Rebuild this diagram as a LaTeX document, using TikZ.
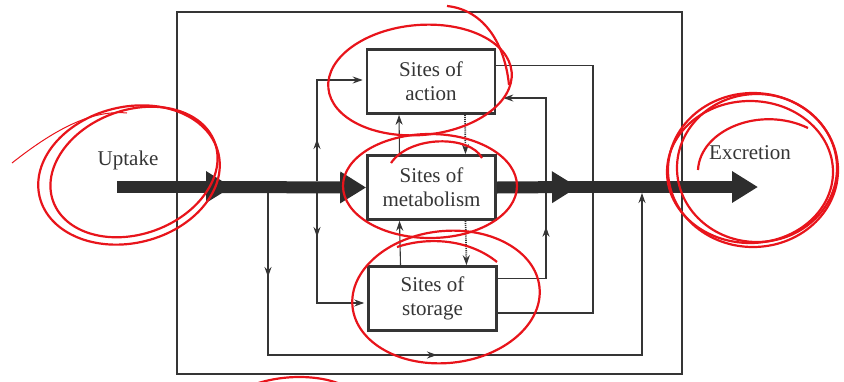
\documentclass[tikz,border=0pt]{standalone}
\usepackage{fontspec}
\setmainfont{Liberation Serif}
\usetikzlibrary{arrows.meta,decorations.markings}
\definecolor{ink}{HTML}{353535}
\definecolor{pen}{HTML}{E8141B}
\tikzset{ahead/.tip={Stealth[length=10pt,width=7pt]}}
\tikzstyle{site}=[rectangle,draw=ink,line width=2.6pt,fill=white,minimum width=128pt,minimum height=64pt,align=center,text=ink,font=\fontsize{21}{24}\selectfont]
\tikzstyle{lbl}=[text=ink,font=\fontsize{21}{24}\selectfont]
\tikzstyle{bulk}=[draw=ink!85!black,line width=12pt,-{Triangle[length=26pt,width=30pt]}]
\tikzstyle{link}=[draw=ink,line width=1.1pt]
\tikzstyle{flow}=[link,-ahead]
\tikzstyle{back}=[flow,densely dotted,line width=1.7pt]
\tikzstyle{tipat}=[postaction={decorate,decoration={markings,mark=at position #1 with {\arrow{ahead}}}}]
\tikzstyle{scrawl}=[draw=pen,line width=2.2pt]
\tikzstyle{hair}=[draw=pen,line width=1pt]

\begin{document}
\begin{tikzpicture}[x=1pt,y=-1pt]
          \useasboundingbox (0,0) rectangle (844,381);
          \draw[ink,line width=1.4pt] (177,12) rectangle (682,374);

          \node[site] (act) at (431,81.5) {Sites of\\action};
          \node[site] (met) at (431.5,187.5) {Sites of\\metabolism};
          \node[site] (sto) at (432.5,298.5) {Sites of\\storage};
          \node[lbl]  (up)  at (128,160) {Uptake};
          \node[lbl]  (ex)  at (750,153) {Excretion};

          \coordinate (in)  at (117,187);
          \coordinate (j1)  at (232,187);
          \coordinate (j2)  at (578,187);
          \coordinate (out) at (758,187);
          \coordinate (b1)  at (268,193);
          \coordinate (bl)  at (268,355);
          \coordinate (b2)  at (642,193);
          \coordinate (f)   at (317,181);
          \coordinate (fb)  at (317,193);
          \coordinate (r)   at (593,187);
          \coordinate (k)   at (546,187);

          \draw[flow,tipat=84pt,tipat=331pt] (b1) -- (bl) -| (b2);
          \draw[flow,tipat=42pt,shorten >=3pt] (f) |- ([yshift=1.5pt]act.west);
          \draw[flow,tipat=44pt,shorten >=3pt] (fb) |- ([yshift=-4.5pt]sto.west);
          \draw[link] ([yshift=16pt]act.east) -| (r);
          \draw[link] ([yshift=-14.5pt]sto.east) -| (r);
          \draw[flow,tipat=100pt,shorten >=7pt] ([yshift=20pt]sto.east) -| (k) |- ([yshift=-16.5pt]act.east);

          \draw[flow] ([xshift=-32pt]met.north) -- ([xshift=-32pt]act.south);
          \draw[back] ([xshift=34pt]act.south) -- ([xshift=34pt]met.north);
          \draw[flow] ([xshift=-32pt]sto.north) -- ([xshift=-32pt]met.south);
          \draw[back] ([xshift=34pt]met.south) -- ([xshift=34pt]sto.north);

          \draw[bulk] (in) -- (j1);
          \draw[bulk] ([xshift=-22pt]j1) -- (met.west);
          \draw[bulk] (met.east) -- (j2);
          \draw[bulk] ([xshift=-22pt]j2) -- (out);

          \draw[scrawl,rotate around={14:(129,175)}] (129,175) ellipse [x radius=92pt,y radius=68pt];
          \draw[scrawl,rotate around={20:(134,172)}] (134,172) ellipse [x radius=86pt,y radius=62pt];
          \draw[hair] (12,163) .. controls (60,125) and (95,110) .. (127,113);

          \draw[scrawl,rotate around={5:(420,80)}] (420,80) ellipse [x radius=92pt,y radius=55pt];
          \draw[scrawl] (447,6) .. controls (485,10) and (505,45) .. (509,85);

          \draw[scrawl] (430,186) ellipse [x radius=87pt,y radius=52pt];
          \draw[scrawl] (391,163) .. controls (410,135) and (470,135) .. (482,158);

          \draw[scrawl,rotate around={6:(446,297)}] (446,297) ellipse [x radius=94pt,y radius=66pt];
          \draw[scrawl] (397,247) .. controls (430,236) and (470,240) .. (497,262);

          \draw[scrawl] (753,170) ellipse [x radius=85pt,y radius=77pt];
          \draw[scrawl] (757,168) ellipse [x radius=80pt,y radius=74pt];
          \draw[scrawl] (750,172) ellipse [x radius=83pt,y radius=71pt];
          \draw[scrawl] (698,170) .. controls (700,130) and (760,105) .. (808,128);

          \draw[scrawl] (250,386) .. controls (280,374) and (320,374) .. (345,386);
        \end{tikzpicture}
\end{document}
